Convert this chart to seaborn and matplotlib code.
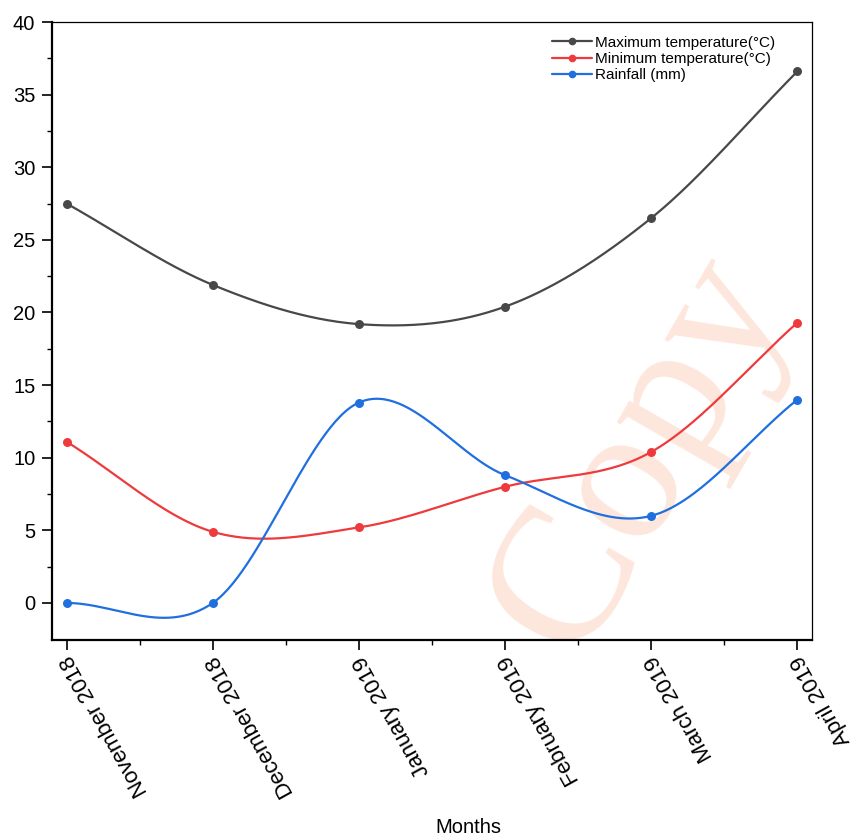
import numpy as np
import pandas as pd
import matplotlib
matplotlib.use("Agg")
import matplotlib.pyplot as plt
from matplotlib.lines import Line2D
import seaborn as sns

# -------------------------------------
# Data
# -------------------------------------
months = ["November 2018", "December 2018", "January 2019",
          "February 2019", "March 2019", "April 2019"]
max_temp = [27.5, 21.9, 19.2, 20.4, 26.5, 36.6]
min_temp = [11.1, 4.9, 5.2, 8.0, 10.4, 19.3]
rainfall = [0.0, 0.0, 13.8, 8.8, 6.0, 14.0]

series_names = ["Maximum temperature(°C)", "Minimum temperature(°C)", "Rainfall (mm)"]
series_values = [max_temp, min_temp, rainfall]
colors = ["#484848", "#ee3a3c", "#1f6fdf"]


def smooth_curve(x, y, n=300):
    # cubic Hermite (Catmull-Rom style) spline through the data points
    x = np.asarray(x, float)
    y = np.asarray(y, float)
    m = np.gradient(y, x)
    xs = np.linspace(x[0], x[-1], n)
    idx = np.clip(np.searchsorted(x, xs) - 1, 0, len(x) - 2)
    h = x[idx + 1] - x[idx]
    t = (xs - x[idx]) / h
    h00 = 2 * t ** 3 - 3 * t ** 2 + 1
    h10 = t ** 3 - 2 * t ** 2 + t
    h01 = -2 * t ** 3 + 3 * t ** 2
    h11 = t ** 3 - t ** 2
    ys = h00 * y[idx] + h10 * h * m[idx] + h01 * y[idx + 1] + h11 * h * m[idx + 1]
    return xs, ys


sns.set_theme(style="ticks", rc={"text.color": "black", "xtick.color": "black",
                                 "ytick.color": "black", "axes.labelcolor": "black"})
plt.rcParams["font.family"] = ["Liberation Sans", "DejaVu Sans"]

fig = plt.figure(figsize=(8.58, 8.40), dpi=100)
ax = fig.add_axes([0.0606, 0.2381, 0.8858, 0.7357])

xpos = np.arange(len(months))

# -------------------------------------
# Smooth lines + markers
# -------------------------------------
handles = []
for name, vals, col in zip(series_names, series_values, colors):
    xs, ys = smooth_curve(xpos, vals)
    sns.lineplot(x=xs, y=ys, ax=ax, color=col, linewidth=1.6, sort=False, zorder=3)
    sns.scatterplot(x=xpos, y=vals, ax=ax, color=col, s=42, linewidth=0, zorder=4)
    handles.append(Line2D([0], [0], color=col, linewidth=1.6, marker="o",
                          markersize=5.5, markeredgewidth=0, label=name))

ax.legend(handles=handles, loc="upper right", bbox_to_anchor=(0.965, 0.995),
          frameon=False, fontsize=11, handlelength=2.6, handletextpad=0.2,
          labelspacing=0.15, borderaxespad=0.3)

# -------------------------------------
# Axes formatting
# -------------------------------------
ax.set_xlim(-0.1, 5.1)
ax.set_ylim(-2.55, 40)
ax.set_yticks(np.arange(0, 41, 5))
ax.set_yticks(np.arange(2.5, 40, 5), minor=True)
ax.set_xticks(xpos)
ax.set_xticks(xpos[:-1] + 0.5, minor=True)
ax.set_xticklabels(months, rotation=119, ha="right", va="center",
                   rotation_mode="anchor", fontsize=16)
ax.tick_params(axis="y", labelsize=14.5, pad=5)
ax.tick_params(which="major", direction="out", length=7, width=1.2, color="black")
ax.tick_params(which="minor", direction="out", length=3.5, width=1.0, color="black")
ax.tick_params(axis="x", which="major", pad=5)

for side in ["left", "bottom"]:
    ax.spines[side].set_linewidth(1.6)
for side in ["top", "right"]:
    ax.spines[side].set_linewidth(0.9)
for sp in ax.spines.values():
    sp.set_color("black")

ax.set_xlabel("")
ax.set_ylabel("")
fig.text(0.546, 0.003, "Months", fontsize=14.5, ha="center", va="bottom")

# watermark
ax.text(0.775, 0.30, "Copy", transform=ax.transAxes, rotation=60,
        fontsize=140, family="Liberation Serif", color="#fde6dc",
        ha="center", va="center", zorder=0, clip_on=False)

fig.savefig("out.png", dpi=100)
